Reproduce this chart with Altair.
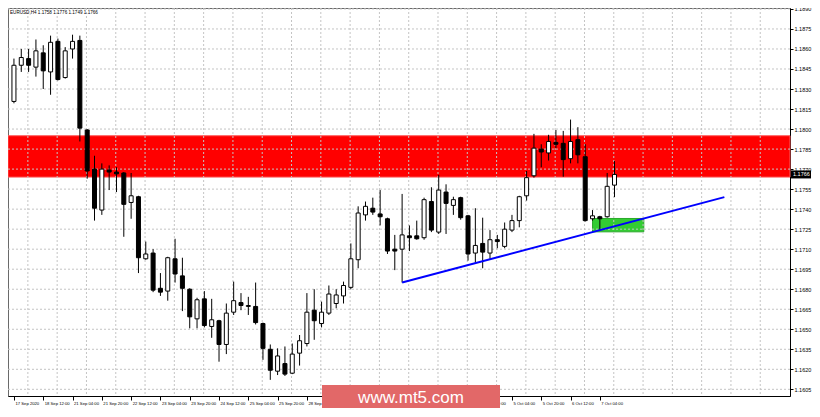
import altair as alt
import pandas as pd

# ---------------- data (EURUSD H4) ----------------
candle_idx = list(range(83))
opens = [
    1.18207, 1.18478, 1.18528, 1.18464, 1.18571, 1.18428, 1.18657, 1.18386, 1.18600, 1.18664,
    1.17993, 1.17700, 1.17393, 1.17693, 1.17678, 1.17671, 1.17450, 1.17493, 1.17028, 1.17071,
    1.16807, 1.16786, 1.17028, 1.16900, 1.16800, 1.16578, 1.16728, 1.16521, 1.16564, 1.16386,
    1.16628, 1.16700, 1.16671, 1.16671, 1.16543, 1.16350, 1.16186, 1.16243, 1.16171, 1.16321,
    1.16393, 1.16643, 1.16543, 1.16621, 1.16693, 1.16750, 1.16814, 1.17021, 1.17357, 1.17407,
    1.17364, 1.17328, 1.17100, 1.17100, 1.17200, 1.17200, 1.17186, 1.17457, 1.17228, 1.17528,
    1.17428, 1.17486, 1.17350, 1.17071, 1.17143, 1.17071, 1.17171, 1.17121, 1.17243, 1.17314,
    1.17500, 1.17650, 1.17850, 1.17821, 1.17900, 1.17893, 1.17778, 1.17921, 1.17793, 1.17328,
    1.17343, 1.17343, 1.17580,
]
highs = [
    1.18528, 1.18600, 1.18600, 1.18671, 1.18628, 1.18700, 1.18678, 1.18614, 1.18707, 1.18700,
    1.18000, 1.17800, 1.17743, 1.17728, 1.17714, 1.17678, 1.17671, 1.17500, 1.17157, 1.17100,
    1.16921, 1.17043, 1.17178, 1.17036, 1.16807, 1.16736, 1.16786, 1.16728, 1.16571, 1.16693,
    1.16857, 1.16771, 1.16743, 1.16850, 1.16550, 1.16386, 1.16357, 1.16371, 1.16393, 1.16457,
    1.16771, 1.16800, 1.16707, 1.16828, 1.16800, 1.16857, 1.17143, 1.17421, 1.17457, 1.17486,
    1.17543, 1.17336, 1.17207, 1.17514, 1.17278, 1.17314, 1.17486, 1.17564, 1.17657, 1.17586,
    1.17493, 1.17493, 1.17357, 1.17407, 1.17336, 1.17243, 1.17207, 1.17300, 1.17357, 1.17500,
    1.17686, 1.17964, 1.17886, 1.17957, 1.17993, 1.17986, 1.18071, 1.18014, 1.17886, 1.17393,
    1.17350, 1.17671, 1.17760,
]
lows = [
    1.18193, 1.18428, 1.18428, 1.18393, 1.18300, 1.18257, 1.18364, 1.18378, 1.18528, 1.17907,
    1.17628, 1.17314, 1.17357, 1.17543, 1.17528, 1.17193, 1.17328, 1.16921, 1.17021, 1.16778,
    1.16750, 1.16714, 1.16850, 1.16636, 1.16507, 1.16507, 1.16514, 1.16436, 1.16257, 1.16314,
    1.16607, 1.16643, 1.16607, 1.16536, 1.16271, 1.16121, 1.16157, 1.16150, 1.16164, 1.16228,
    1.16371, 1.16421, 1.16514, 1.16607, 1.16657, 1.16693, 1.16800, 1.16957, 1.17314, 1.17357,
    1.17278, 1.17064, 1.16943, 1.16850, 1.17086, 1.17171, 1.17171, 1.17228, 1.17214, 1.17214,
    1.17357, 1.17321, 1.17014, 1.17000, 1.16957, 1.17028, 1.17107, 1.17107, 1.17228, 1.17264,
    1.17464, 1.17636, 1.17714, 1.17764, 1.17857, 1.17643, 1.17743, 1.17743, 1.17307, 1.17314,
    1.17243, 1.17336, 1.17490,
]
closes = [
    1.18478, 1.18536, 1.18478, 1.18586, 1.18436, 1.18650, 1.18371, 1.18586, 1.18657, 1.18007,
    1.17686, 1.17407, 1.17700, 1.17678, 1.17664, 1.17436, 1.17500, 1.17036, 1.17064, 1.16793,
    1.16778, 1.17036, 1.16914, 1.16807, 1.16593, 1.16721, 1.16528, 1.16571, 1.16386, 1.16621,
    1.16714, 1.16678, 1.16678, 1.16550, 1.16357, 1.16193, 1.16300, 1.16164, 1.16314, 1.16414,
    1.16628, 1.16564, 1.16628, 1.16764, 1.16757, 1.16828, 1.17028, 1.17371, 1.17421, 1.17378,
    1.17343, 1.17086, 1.17086, 1.17207, 1.17186, 1.17178, 1.17471, 1.17243, 1.17543, 1.17443,
    1.17471, 1.17336, 1.17064, 1.17128, 1.17078, 1.17171, 1.17157, 1.17250, 1.17314, 1.17493,
    1.17636, 1.17857, 1.17828, 1.17907, 1.17886, 1.17771, 1.17907, 1.17807, 1.17314, 1.17350,
    1.17328, 1.17571, 1.17660,
]

x_tick_idx = list(range(0, 81, 4))
x_tick_labels = [
    "17 Sep 2020", "18 Sep 12:00", "21 Sep 04:00", "21 Sep 20:00", "22 Sep 12:00",
    "23 Sep 04:00", "23 Sep 20:00", "24 Sep 12:00", "25 Sep 04:00", "25 Sep 20:00",
    "28 Sep 12:00", "29 Sep 04:00", "29 Sep 20:00", "30 Sep 12:00", "1 Oct 04:00",
    "1 Oct 20:00", "2 Oct 12:00", "5 Oct 04:00", "5 Oct 20:00", "6 Oct 12:00", "7 Oct 04:00",
]
y_ticks = [1.1605, 1.1620, 1.1635, 1.1650, 1.1665, 1.1680, 1.1695, 1.1710, 1.1725, 1.1740,
           1.1755, 1.1770, 1.1785, 1.1800, 1.1815, 1.1830, 1.1845, 1.1860, 1.1875, 1.1890]
grid_idx = [1.9 + 4 * k for k in range(26)]

x_domain = [-0.13, 105.28]
y_domain = [1.1600, 1.18907]

red_zone = [1.1764, 1.1795]
green_zone_idx = [79, 86]
green_zone_price = [1.1723, 1.1733]
trend_idx = [53, 97]
trend_price = [1.1685, 1.1749]
last_price = 1.1766
header_text = "EURUSD,H4  1.1758 1.1776 1.1749 1.1766"
watermark_text = "www.mt5.com"

# ---------------- frames ----------------
df = pd.DataFrame({"i": candle_idx, "open": opens, "high": highs, "low": lows, "close": closes})
df["dir"] = ["up" if c >= o else "down" for o, c in zip(opens, closes)]

FONT = "Liberation Sans"
xs = alt.Scale(domain=x_domain, nice=False, zero=False)
ys = alt.Scale(domain=y_domain, nice=False, zero=False)

label_list = "[" + ",".join("'%s'" % s for s in x_tick_labels) + "]"
X_AXIS = alt.Axis(values=x_tick_idx, labelExpr=label_list + "[round(datum.value/4)]",
                  title=None, grid=False, domainColor="#000000", tickColor="#000000",
                  tickSize=4, labelAlign="left", labelBaseline="top", labelPadding=1,
                  labelFontSize=4.2, labelFont=FONT, labelColor="#000000", labelOffset=1,
                  labelFlush=False, labelOverlap=False)
Y_AXIS = alt.Axis(orient="right", values=y_ticks, format=".4f", title=None, grid=False,
                  domainColor="#000000", tickColor="#000000", tickSize=3, labelPadding=1,
                  labelFontSize=5.5, labelFont=FONT, labelColor="#000000",
                  labelFlush=False, labelOverlap=False)


def X(f):
    return alt.X(f"{f}:Q", scale=xs, axis=X_AXIS)


def Y(f):
    return alt.Y(f"{f}:Q", scale=ys, axis=Y_AXIS)


red = alt.Chart(pd.DataFrame({"p0": [red_zone[0]], "p1": [red_zone[1]]})).mark_rect(
    fill="#ff0000", stroke="#ff5a5a", strokeWidth=1
).encode(x=alt.value(0), x2=alt.value("width"), y=Y("p0"), y2="p1")

green = alt.Chart(pd.DataFrame({"i0": [green_zone_idx[0]], "i1": [green_zone_idx[1]],
                                "p0": [green_zone_price[0]], "p1": [green_zone_price[1]]})).mark_rect(
    fill="#33cc33", stroke="#2aa82a", strokeWidth=1
).encode(x=X("i0"), x2="i1", y=Y("p0"), y2="p1")

vgrid = alt.Chart(pd.DataFrame({"g": grid_idx})).mark_rule(
    color="#c4c4c4", strokeDash=[2, 2], strokeWidth=1
).encode(x=X("g"))

hgrid = alt.Chart(pd.DataFrame({"t": y_ticks})).mark_rule(
    color="#c4c4c4", strokeDash=[2, 2], strokeWidth=1
).encode(y=Y("t"))

wicks = alt.Chart(df).mark_rule(color="#000000", strokeWidth=1).encode(
    x=X("i"), y=Y("low"), y2="high"
)

bodies = alt.Chart(df).mark_bar(size=4, stroke="#000000", strokeWidth=1).encode(
    x=X("i"), y=Y("open"), y2="close",
    fill=alt.Fill("dir:N", scale=alt.Scale(domain=["up", "down"], range=["#ffffff", "#000000"]),
                  legend=None),
)

trend = alt.Chart(pd.DataFrame({"i": trend_idx, "p": trend_price})).mark_line(
    color="#0000ff", strokeWidth=2
).encode(x=X("i"), y=Y("p"))

price_df = pd.DataFrame({"p": [last_price], "t": ["%.4f" % last_price]})
price_box = alt.Chart(price_df).mark_rule(color="#000000", strokeWidth=8).encode(
    x=alt.value({"expr": "width + 1"}), x2=alt.value({"expr": "width + 21"}), y=Y("p")
)
price_txt = alt.Chart(price_df).mark_text(
    align="left", baseline="middle", fontSize=5.5, font=FONT, color="#ffffff"
).encode(x=alt.value({"expr": "width + 3"}), y=Y("p"), text="t:N")

header = alt.Chart(pd.DataFrame({"t": [header_text]})).mark_text(
    align="left", baseline="middle", fontSize=4.6, font=FONT, color="#000000"
).encode(x=alt.value(2), y=alt.value(5), text="t:N")

wm_df = pd.DataFrame({"t": [watermark_text]})
wm_box = alt.Chart(wm_df).mark_rect(fill="#e26868").encode(
    x=alt.value(314), x2=alt.value(492), y=alt.value(377), y2=alt.value(402)
)
wm_txt = alt.Chart(wm_df).mark_text(
    align="center", baseline="middle", fontSize=17, font=FONT, color="#ffffff"
).encode(x=alt.value(403), y=alt.value(390), text="t:N")

chart = alt.layer(
    red, green, vgrid, hgrid, wicks, bodies, trend, price_box, price_txt, header, wm_box, wm_txt
).properties(
    width=782, height=388,
    autosize=alt.AutoSizeParams(type="none"),
    padding={"left": 0, "top": 0, "right": 22, "bottom": 12},
    background="#ffffff",
).configure_view(stroke="#6a6a6a", strokeWidth=1)

chart.save("out.html", embed_options={"renderer": "svg", "actions": False})
